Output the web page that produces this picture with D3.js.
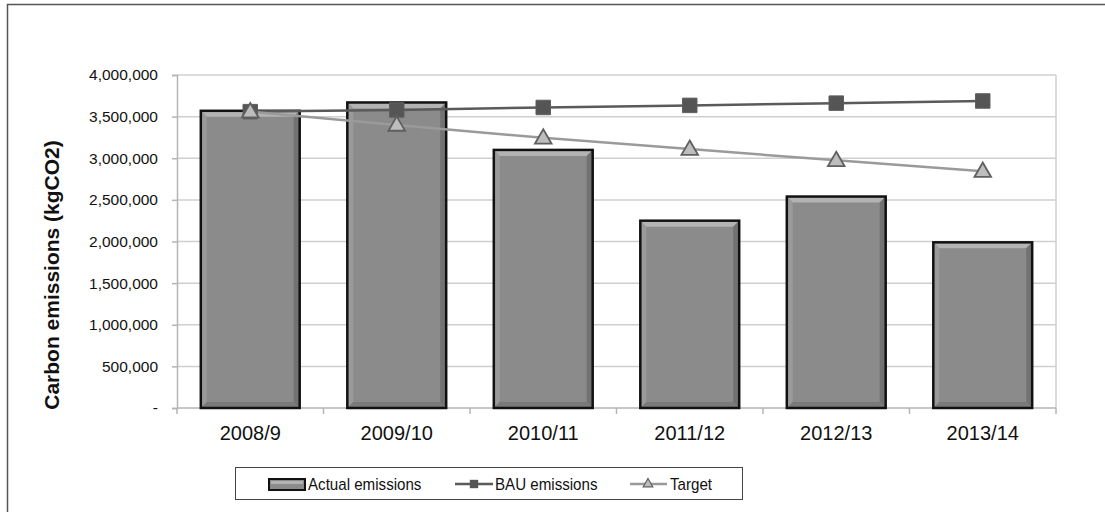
<!DOCTYPE html>
<html>
<head>
    <title>Carbon emissions</title>
    <script src="https://d3js.org/d3.v7.min.js"></script>
    <style>
        body { margin: 0; background: #fff; }
        text { font-family: "Liberation Sans", Arial, sans-serif; }
    </style>
</head>
<body>
    <div id="chart"></div>

    <script>
        // data
        var years = ["2008/9", "2009/10", "2010/11", "2011/12", "2012/13", "2013/14"];
        var actual = [3570000, 3670000, 3100000, 2250000, 2540000, 1990000];
        var bau = [3560000, 3580000, 3610000, 3635000, 3662000, 3688000];
        var target = [3560000, 3400000, 3245000, 3110000, 2975000, 2845000];
        var yTicks = [0, 500000, 1000000, 1500000, 2000000, 2500000, 3000000, 3500000, 4000000];
        var seriesNames = ["Actual emissions", "BAU emissions", "Target"];

        var W = 1105, H = 512;
        var margin = {top: 75, right: 49, bottom: 104, left: 177},
            width = W - margin.left - margin.right,
            height = H - margin.top - margin.bottom;

        var svg = d3.select("#chart")
                    .append("svg")
                    .attr("width", W)
                    .attr("height", H);

        // outer chart frame (only top and left edges are visible)
        svg.append("path")
           .attr("d", "M7.5," + H + "V4.5H" + W)
           .attr("fill", "none")
           .attr("stroke", "#555")
           .attr("stroke-width", 1.5);

        var g = svg.append("g")
                   .attr("transform", "translate(" + margin.left + "," + margin.top + ")");

        var x = d3.scaleBand()
                  .domain(years)
                  .range([0, width])
                  .paddingInner(0.325)
                  .paddingOuter(0.1625);

        var y = d3.scaleLinear()
                  .domain([0, 4000000])
                  .range([height, 0]);

        // gridlines
        g.append("g")
         .selectAll("line")
         .data(yTicks.slice(1))
         .enter()
         .append("line")
         .attr("x1", 0).attr("x2", width)
         .attr("y1", function(d) { return y(d); })
         .attr("y2", function(d) { return y(d); })
         .attr("stroke", "#cfcfcf")
         .attr("stroke-width", 1.5);

        // right edge of plot area
        g.append("line")
         .attr("x1", width).attr("x2", width)
         .attr("y1", 0).attr("y2", height)
         .attr("stroke", "#cfcfcf")
         .attr("stroke-width", 1.5);

        // y axis
        var yAxis = d3.axisLeft(y)
                      .tickValues(yTicks)
                      .tickSize(5)
                      .tickPadding(14)
                      .tickFormat(function(d) { return d === 0 ? "-" : d3.format(",")(d); });
        var ya = g.append("g").call(yAxis);
        ya.select(".domain").attr("stroke", "#b5b5b5").attr("stroke-width", 1.5);
        ya.selectAll(".tick line").attr("stroke", "#b5b5b5").attr("stroke-width", 1.5);
        ya.selectAll("text")
          .style("font-size", "15.5px")
          .style("font-family", "'Liberation Sans', Arial, sans-serif")
          .attr("fill", "#111");

        // x axis with ticks between categories
        var xa = g.append("g").attr("transform", "translate(0," + height + ")");
        xa.append("line")
          .attr("x1", 0).attr("x2", width)
          .attr("stroke", "#b5b5b5").attr("stroke-width", 1.5);
        var bounds = years.map(function(d) { return x(d) - x.step() * x.paddingInner() / 2; });
        bounds[0] = 0;
        bounds.push(width);
        xa.selectAll(".xt")
          .data(bounds)
          .enter()
          .append("line")
          .attr("x1", function(d) { return d; })
          .attr("x2", function(d) { return d; })
          .attr("y1", 0).attr("y2", 6)
          .attr("stroke", "#b5b5b5").attr("stroke-width", 1.5);
        xa.selectAll(".xl")
          .data(years)
          .enter()
          .append("text")
          .attr("x", function(d) { return x(d) + x.bandwidth() / 2; })
          .attr("y", 32)
          .attr("text-anchor", "middle")
          .style("font-size", "20px")
          .attr("fill", "#111")
          .text(function(d) { return d; });

        // y axis title
        svg.append("text")
           .attr("transform", "translate(59," + 275 + ") rotate(-90)")
           .attr("text-anchor", "middle")
           .style("font-size", "21px")
           .style("font-weight", "bold")
           .attr("fill", "#111")
           .text("Carbon emissions (kgCO2)");

        // bevelled bars
        var bev = 6;
        var bars = g.append("g")
                    .selectAll("g")
                    .data(years.map(function(d, i) { return {year: d, v: actual[i]}; }))
                    .enter()
                    .append("g");

        function bevelParts(x0, y0, x1, y1) {
            return [
                {d: [[x0,y0],[x1,y0],[x1-bev,y0+bev],[x0+bev,y0+bev]], c: "#b3b3b3"},
                {d: [[x0,y0],[x0+bev,y0+bev],[x0+bev,y1-bev],[x0,y1]], c: "#9a9a9a"},
                {d: [[x1,y0],[x1,y1],[x1-bev,y1-bev],[x1-bev,y0+bev]], c: "#727272"},
                {d: [[x0,y1],[x0+bev,y1-bev],[x1-bev,y1-bev],[x1,y1]], c: "#7a7a7a"}
            ];
        }

        bars.each(function(d) {
            var sel = d3.select(this);
            var x0 = x(d.year), x1 = x0 + x.bandwidth(), y0 = y(d.v), y1 = y(0);
            sel.append("rect")
               .attr("x", x0).attr("y", y0)
               .attr("width", x1 - x0).attr("height", y1 - y0)
               .attr("fill", "#8b8b8b");
            sel.selectAll("path")
               .data(bevelParts(x0, y0, x1, y1))
               .enter()
               .append("path")
               .attr("d", function(p) { return "M" + p.d.join("L") + "Z"; })
               .attr("fill", function(p) { return p.c; });
            sel.append("rect")
               .attr("x", x0).attr("y", y0)
               .attr("width", x1 - x0).attr("height", y1 - y0)
               .attr("fill", "none")
               .attr("stroke", "#111")
               .attr("stroke-width", 2.5);
        });

        var cx = function(d, i) { return x(years[i]) + x.bandwidth() / 2; };

        // BAU line
        g.append("path")
         .datum(bau)
         .attr("fill", "none")
         .attr("stroke", "#5a5a5a")
         .attr("stroke-width", 2.5)
         .attr("d", d3.line().x(cx).y(function(d) { return y(d); }));

        // Target line
        g.append("path")
         .datum(target)
         .attr("fill", "none")
         .attr("stroke", "#9a9a9a")
         .attr("stroke-width", 2.5)
         .attr("d", d3.line().x(cx).y(function(d) { return y(d); }));

        var square = d3.symbol().type(d3.symbolSquare).size(210);
        var tri = d3.symbol().type(d3.symbolTriangle).size(120);

        g.append("g")
         .selectAll("path")
         .data(bau)
         .enter()
         .append("path")
         .attr("d", square)
         .attr("transform", function(d, i) { return "translate(" + cx(d, i) + "," + y(d) + ")"; })
         .attr("fill", "#555")
         .attr("stroke", "#5f5f5f")
         .attr("stroke-width", 1);

        g.append("g")
         .selectAll("path")
         .data(target)
         .enter()
         .append("path")
         .attr("d", tri)
         .attr("transform", function(d, i) { return "translate(" + cx(d, i) + "," + (y(d) + 1) + ")"; })
         .attr("fill", "#bdbdbd")
         .attr("stroke", "#5f5f5f")
         .attr("stroke-width", 1.8);

        // legend
        var lg = svg.append("g").attr("transform", "translate(235,467)");
        lg.append("rect")
          .attr("x", 0.5).attr("y", 0.5)
          .attr("width", 507).attr("height", 32)
          .attr("fill", "#fff")
          .attr("stroke", "#444")
          .attr("stroke-width", 1);

        // swatch for bars
        var sw = lg.append("g").attr("transform", "translate(34,12)");
        sw.append("rect").attr("width", 36).attr("height", 11).attr("fill", "#8b8b8b")
          .attr("stroke", "#111").attr("stroke-width", 2);
        sw.append("rect").attr("x", 2).attr("y", 2).attr("width", 32).attr("height", 3).attr("fill", "#b3b3b3");

        // BAU swatch
        var sb = lg.append("g").attr("transform", "translate(220,17)");
        sb.append("line").attr("x1", 0).attr("x2", 38).attr("stroke", "#5a5a5a").attr("stroke-width", 2.5);
        sb.append("path").attr("d", d3.symbol().type(d3.symbolSquare).size(70))
          .attr("transform", "translate(19,0)").attr("fill", "#555");

        // Target swatch
        var st = lg.append("g").attr("transform", "translate(395,17)");
        st.append("line").attr("x1", 0).attr("x2", 37).attr("stroke", "#9a9a9a").attr("stroke-width", 2.5);
        st.append("path").attr("d", d3.symbol().type(d3.symbolTriangle).size(40))
          .attr("transform", "translate(18,0)").attr("fill", "#bdbdbd")
          .attr("stroke", "#5f5f5f").attr("stroke-width", 1.2);

        var legendX = [73, 260, 435];
        lg.selectAll(".lt")
          .data(seriesNames)
          .enter()
          .append("text")
          .attr("transform", function(d, i) { return "translate(" + legendX[i] + ",23) scale(0.89,1)"; })
          .style("font-size", "17px")
          .attr("fill", "#111")
          .text(function(d) { return d; });
    </script>
</body>
</html>
